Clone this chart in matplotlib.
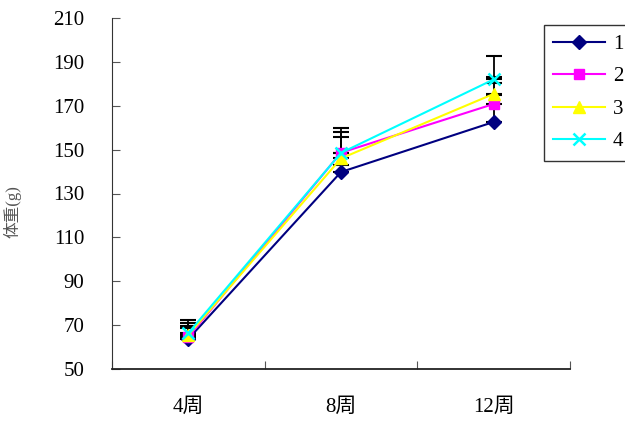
import matplotlib
matplotlib.use("Agg")
import matplotlib.pyplot as plt
import numpy as np

categories = ["4周", "8周", "12周"]
series_names = ["1", "2", "3", "4"]
s1 = [63.7, 139.8, 162.6]
s2 = [64.6, 148.6, 170.8]
s3 = [65.5, 146.0, 175.4]
s4 = [66.4, 148.5, 182.0]
e1 = [5.0, 3.0, 12.5]
e2 = [5.0, 7.0, 9.5]
e3 = [5.5, 12.0, 7.5]
e4 = [6.0, 11.5, 10.5]
yticks = [50, 70, 90, 110, 130, 150, 170, 190, 210]
ylabel = "体重(g)"

fam = ['Liberation Serif', 'Noto Sans CJK SC', 'DejaVu Sans']
plt.rcParams['font.family'] = fam

fig = plt.figure(figsize=(6.25, 4.21), dpi=100)
ax = fig.add_axes([112/625, 1-369/421, (570-112)/625, (369-18)/421])

x = np.arange(len(categories))
styles = [
    (s1, e1, "#000080", "D", 7),
    (s2, e2, "#FF00FF", "s", 7),
    (s3, e3, "#FFFF00", "^", 8),
    (s4, e4, "#00FFFF", "x", 9),
]
for (vals, errs, col, mk, ms), name in zip(styles, series_names):
    ax.errorbar(x, vals, yerr=[np.zeros(len(errs)), errs], fmt="none",
                ecolor="black", elinewidth=1.3, capsize=6, capthick=1.5, zorder=2)
for (vals, errs, col, mk, ms), name in zip(styles, series_names):
    ax.plot(x, vals, color=col, marker=mk, markersize=ms, linewidth=1.5,
            markeredgewidth=1.8 if mk == "x" else 1, label=name, zorder=3)

ax.set_xlim(-0.5, 2.5)
ax.set_ylim(50, 210)
ax.set_yticks(yticks)
ax.set_yticklabels([str(t) for t in yticks], fontsize=15)
ax.set_xticks([-0.5, 0.5, 1.5, 2.5])
ax.set_xticklabels([])
ax.set_xticks(x, minor=True)
ax.set_xticklabels(categories, minor=True, fontsize=15)
ax.tick_params(axis='x', which='minor', length=0, pad=21)
ax.tick_params(axis='x', which='major', direction='in', length=6, color='#555555')
ax.tick_params(axis='y', direction='in', length=6, pad=20, color='#555555')
ax.spines['top'].set_visible(False)
ax.spines['right'].set_visible(False)
ax.spines['left'].set_color('#333333')
ax.spines['bottom'].set_color('#222222')
ax.spines['bottom'].set_linewidth(1.3)

fig.text(12/625, 1-212/421, ylabel, rotation=90, fontsize=12, ha='center', va='center',
         color='#555555')

leg = ax.legend(loc='upper left', bbox_to_anchor=(544/625, 1-25/421), bbox_transform=fig.transFigure,
                frameon=True, fancybox=False, edgecolor='black', fontsize=15,
                handlelength=2.5, handletextpad=0.35, labelspacing=0.62, borderpad=0.45,
                borderaxespad=0)
leg.get_frame().set_linewidth(1.0)

fig.savefig("out.png", dpi=100)
